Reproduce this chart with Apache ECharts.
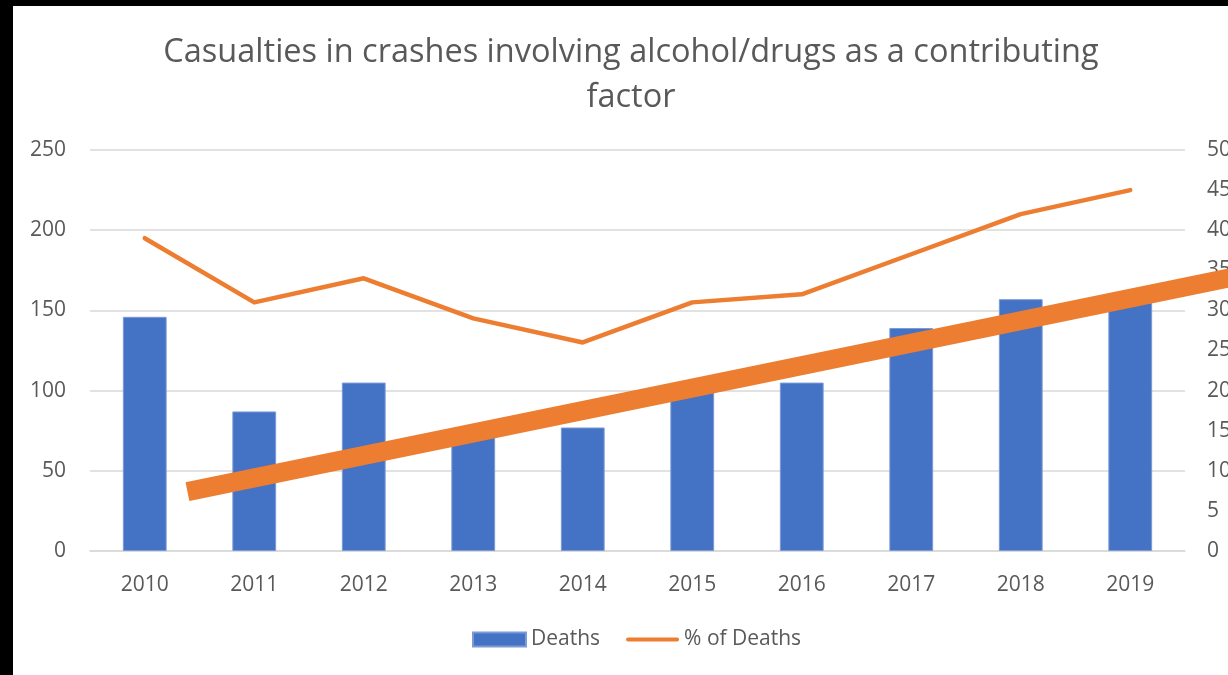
<!DOCTYPE html>
<html>
<head>
<meta charset="utf-8">
<script src="https://cdn.jsdelivr.net/npm/echarts@6/dist/echarts.min.js"></script>
<style>
html,body{margin:0;padding:0;background:#000;overflow:hidden;width:1228px;height:675px;}
#chart{position:absolute;left:13px;top:6px;width:1236px;height:669px;background:#fff;}
</style>
</head>
<body>
<div id="chart"></div>
<script>
const years = ['2010','2011','2012','2013','2014','2015','2016','2017','2018','2019'];
const deaths = [146, 87, 105, 72, 77, 100, 105, 139, 157, 155];
const pctDeaths = [39, 31, 34, 29, 26, 31, 32, 37, 42, 45];
// thick annotation line, in (category index, right-axis %) units
const trendLine = [[0.39, 7.4], [10.6, 36.0]];
const leftTicks = {min: 0, max: 250, interval: 50};
const rightTicks = {min: 0, max: 50, interval: 5};

const FONT = 'Open Sans';
const GREY = '#595959';
const ORANGE = '#ED7D31';
const chart = echarts.init(document.getElementById('chart'));
chart.setOption({
  animation: false,
  backgroundColor: '#fff',
  title: {
    text: 'Casualties in crashes involving alcohol/drugs as a contributing\nfactor',
    left: 'center',
    top: 19,
    textStyle: {fontFamily: FONT, fontSize: 32.5, fontWeight: 'normal', color: GREY, lineHeight: 45}
  },
  legend: {
    data: [{name: 'Deaths', icon: 'rect'},
           {name: '% of Deaths', icon: 'path://M2,0 L54,0 A2,2 0 0 1 54,4 L2,4 A2,2 0 0 1 2,0 Z'}],
    bottom: 20,
    left: 454,
    itemGap: 26,
    itemWidth: 53,
    itemHeight: 14,
    textStyle: {fontFamily: FONT, fontSize: 21, color: GREY}
  },
  grid: {left: 77, right: 64, top: 144, bottom: 124, containLabel: false},
  xAxis: [{
    type: 'category',
    data: years,
    axisLine: {lineStyle: {color: '#d9d9d9', width: 1.5}},
    axisTick: {show: false},
    axisLabel: {fontFamily: FONT, fontSize: 21, color: GREY, margin: 24}
  }, {
    type: 'value', show: false, min: -0.5, max: 9.5
  }],
  yAxis: [{
    type: 'value', min: leftTicks.min, max: leftTicks.max, interval: leftTicks.interval,
    axisLine: {show: false}, axisTick: {show: false},
    splitLine: {lineStyle: {color: '#d9d9d9', width: 1.5}},
    axisLabel: {fontFamily: FONT, fontSize: 21, color: GREY, margin: 24}
  }, {
    type: 'value', min: rightTicks.min, max: rightTicks.max, interval: rightTicks.interval,
    axisLine: {show: false}, axisTick: {show: false},
    splitLine: {show: false},
    axisLabel: {fontFamily: FONT, fontSize: 21, color: GREY, margin: 22}
  }],
  series: [{
    name: 'Deaths', type: 'bar', data: deaths, barWidth: '40%',
    itemStyle: {color: '#4472C4', borderColor: '#7b9ad6', borderWidth: 1}
  }, {
    name: '% of Deaths', type: 'line', yAxisIndex: 1, data: pctDeaths,
    showSymbol: false, symbol: 'none',
    lineStyle: {color: ORANGE, width: 4.5, cap: 'round', join: 'round'},
    itemStyle: {color: ORANGE}
  }]
});
// thick annotation line: positioned through the chart's own scales
const p0 = chart.convertToPixel({xAxisIndex: 1, yAxisIndex: 1}, trendLine[0]);
const p1 = chart.convertToPixel({xAxisIndex: 1, yAxisIndex: 1}, trendLine[1]);
chart.setOption({
  graphic: [{
    type: 'line', z: 100, silent: true,
    shape: {x1: p0[0], y1: p0[1], x2: p1[0], y2: p1[1]},
    style: {stroke: ORANGE, lineWidth: 19, lineCap: 'butt'}
  }]
});
</script>
</body>
</html>
